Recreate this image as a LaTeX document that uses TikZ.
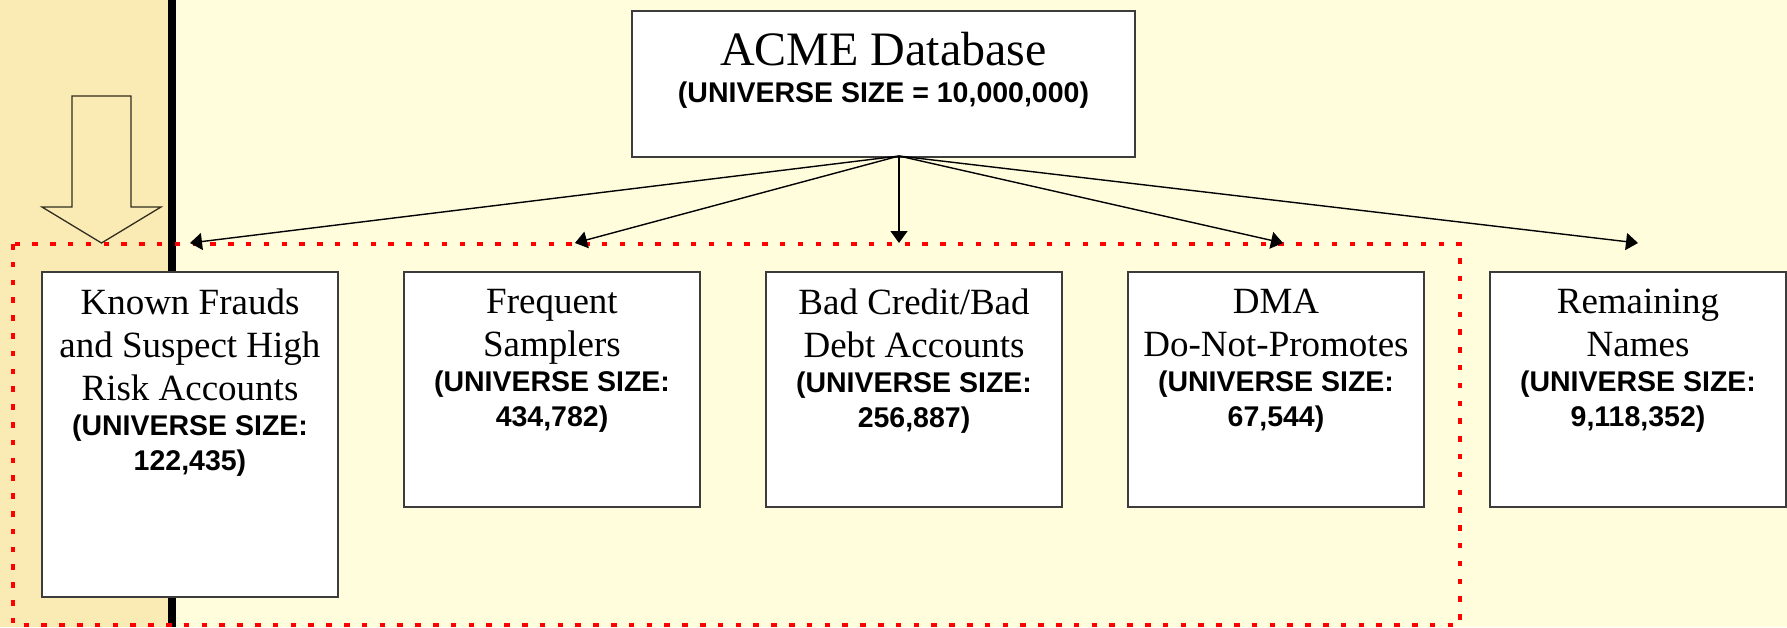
\documentclass[tikz,border=0pt]{standalone}
\usepackage{fontspec}
\setmainfont{Liberation Serif}
\setsansfont{Liberation Sans}
\usetikzlibrary{arrows.meta,calc}

\definecolor{pagebg}{RGB}{255,253,220}
\definecolor{bandbg}{RGB}{250,235,180}
\definecolor{boxline}{RGB}{60,60,60}
\definecolor{hollowline}{RGB}{50,45,30}

% centred text block with the font's own interword spacing
\newcommand\centred{\spaceskip=0pt \xspaceskip=0pt \centering}
\newcommand\titlefont{\fontsize{48}{54}\selectfont}
\newcommand\namefont{\fontsize{37}{43}\selectfont}
\newcommand\sizefont{\fontsize{28.5}{35}\selectfont\sffamily\bfseries}

\tikzset{
  segbox/.style={draw=boxline, line width=2pt, fill=white, minimum width=296pt,
    inner sep=0pt},
  segtext/.style={anchor=north, inner sep=0pt, text width=296pt},
  feed/.style={draw=black, line width=1.4pt, -{Triangle[length=12pt,width=17pt]}},
  zone/.style={draw=red, line width=4pt, dash pattern=on 5.5pt off 12.3pt},
  hollowarrow/.style={draw=hollowline, line width=1.3pt, fill=bandbg},
}

\begin{document}
\begin{tikzpicture}[x=1pt, y=-1pt]
  % backgrounds
  \fill[pagebg] (0,0) rectangle (1787,627);
  \fill[bandbg] (0,0) rectangle (168,627);
  \useasboundingbox (0,0) rectangle (1787,627);

  % separator bar
  \draw[line width=8pt] (172,0) -- (172,627);

  % dotted selection zone
  \draw[zone] (13,244) rectangle (1460,625);

  % hollow block arrow in the side band
  \draw[hollowarrow] (72,96) -- (131,96) -- (131,207) -- (161,207) -- (101.5,243)
    -- (42,207) -- (72,207) -- cycle;

  % source database
  \node[segbox, minimum width=503pt, minimum height=146pt] (acme) at (883.5,84) {};
  \node[segtext, text width=503pt] (acmetext) at ($(acme.north)+(0,22)$)
    {\centred{\titlefont ACME Database\par}{\sizefont\baselineskip=37pt (UNIVERSE SIZE = 10,000,000)\par}};

  % segment boxes
  \node[segbox, minimum height=325pt] (kf)  at (190,434.5) {};
  \node[segbox, minimum height=235pt] (fs)  at (552,389.5) {};
  \node[segbox, minimum height=235pt] (bc)  at (914,389.5) {};
  \node[segbox, minimum height=235pt] (dma) at (1276,389.5) {};
  \node[segbox, minimum height=235pt] (rn)  at (1638,389.5) {};

  \node[segtext] (kft) at ($(kf.north)+(0,18)$)
    {\centred{\namefont Known Frauds\\and Suspect High\\Risk Accounts\par}{\sizefont (UNIVERSE SIZE:\\122,435)\par}};
  \node[segtext] (fst) at ($(fs.north)+(0,18)$)
    {\centred{\namefont Frequent\\Samplers\par}{\sizefont (UNIVERSE SIZE:\\434,782)\par}};
  \node[segtext] (bct) at ($(bc.north)+(0,18)$)
    {\centred{\namefont Bad Credit/Bad\\Debt Accounts\par}{\sizefont (UNIVERSE SIZE:\\256,887)\par}};
  \node[segtext] (dmat) at ($(dma.north)+(0,18)$)
    {\centred{\namefont DMA\\Do-Not-Promotes\par}{\sizefont (UNIVERSE SIZE:\\67,544)\par}};
  \node[segtext] (rnt) at ($(rn.north)+(0,18)$)
    {\centred{\namefont Remaining\\Names\par}{\sizefont (UNIVERSE SIZE:\\9,118,352)\par}};

  % fan-out connectors
  \coordinate (fan) at (899,156);
  \coordinate (tkf)  at (190,243);
  \coordinate (tfs)  at (575,243);
  \coordinate (tbc)  at (899,243);
  \coordinate (tdma) at (1283,243);
  \coordinate (trn)  at (1638,243);
  \foreach \t in {tkf,tfs,tbc,tdma,trn}
    \draw[feed] (fan) -- (\t);
\end{tikzpicture}
\end{document}
